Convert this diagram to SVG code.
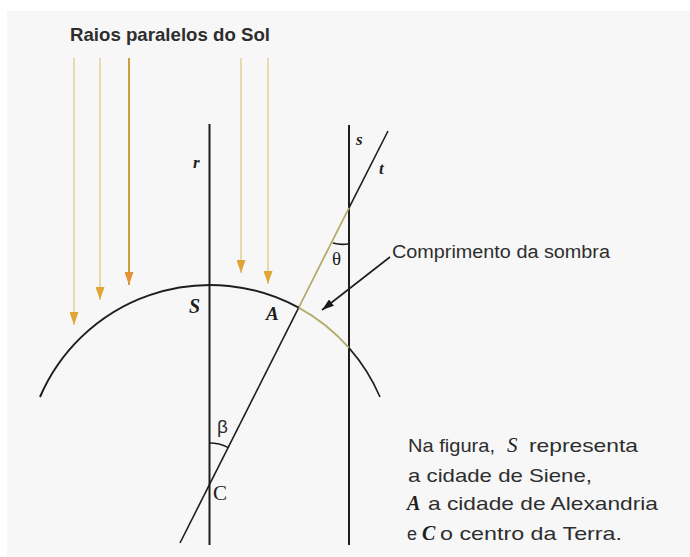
<svg xmlns="http://www.w3.org/2000/svg" width="690" height="557" viewBox="0 0 690 557">
  <defs>
    <marker id="sunHead" viewBox="0 0 13 9" refX="13" refY="4.5" markerWidth="13" markerHeight="9" markerUnits="userSpaceOnUse" orient="auto">
      <path d="M0,0 L13,4.5 L0,9 Z" fill="#e0a535"/>
    </marker>
    <marker id="sunHead2" viewBox="0 0 13 9" refX="13" refY="4.5" markerWidth="13" markerHeight="9" markerUnits="userSpaceOnUse" orient="auto">
      <path d="M0,0 L13,4.5 L0,9 Z" fill="#e8903a"/>
    </marker>
    <marker id="blackHead" viewBox="0 0 12 8" refX="12" refY="4" markerWidth="12" markerHeight="8" markerUnits="userSpaceOnUse" orient="auto">
      <path d="M0,0 L12,4 L0,8 Z" fill="#1a1a1a"/>
    </marker>
  </defs>
  <style>
    .ray { stroke: #e6dbb0; stroke-width: 2; fill: none; marker-end: url(#sunHead); }
    .ray.strong { stroke: #c9a13c; marker-end: url(#sunHead2); }
    .ln { stroke: #1e1e1e; stroke-width: 2; fill: none; }
    .thin { stroke: #1e1e1e; stroke-width: 1.6; fill: none; }
    .olive { stroke: #b3ad6e; stroke-width: 1.8; fill: none; }
    .txt { font-family: "Liberation Sans", Arial, sans-serif; fill: #2e2e2e; }
    .lbl { font-family: "Liberation Serif", "Times New Roman", serif; fill: #1e1e1e; font-style: italic; font-weight: bold; }
    .lbl.plain { font-weight: normal; }
  </style>

  <rect x="0" y="0" width="690" height="557" fill="#ffffff"/>
  <rect x="7" y="11" width="683" height="546" fill="#f7f7f7"/>

  <g id="sun-rays">
    <text class="txt" x="70" y="41" font-size="18.5" font-weight="bold" textLength="200" lengthAdjust="spacingAndGlyphs">Raios paralelos do Sol</text>
    <line class="ray" x1="74" y1="58" x2="74" y2="325"/>
    <line class="ray" x1="100" y1="58" x2="100" y2="300"/>
    <line class="ray strong" x1="129" y1="58" x2="129" y2="285"/>
    <line class="ray" x1="241" y1="58" x2="241" y2="273"/>
    <line class="ray" x1="268" y1="58" x2="268" y2="284"/>
  </g>

  <g id="connectors">
    <line class="ln" x1="209.5" y1="124" x2="209.5" y2="545"/>
    <line class="ln" x1="349" y1="125" x2="349" y2="545"/>
    <line class="thin" x1="388" y1="131" x2="349" y2="207.8"/>
    <line class="olive" x1="349" y1="207.8" x2="298.7" y2="307.6"/>
    <line class="thin" x1="298.7" y1="307.6" x2="180" y2="543"/>
    <path class="ln" d="M40,397 A185,185 0 0 1 298.7,307.6"/>
    <path class="olive" d="M298.7,307.6 A185,185 0 0 1 349,347.9"/>
    <path class="thin" d="M349,347.9 A185,185 0 0 1 380,397"/>
    <path class="thin" d="M209.5,443 A41,41 0 0 1 228,447.4"/>
    <path class="thin" stroke-width="1.3" d="M332.8,243 A36,36 0 0 0 349,243.8"/>
    <line class="thin" x1="390" y1="257" x2="322" y2="310" marker-end="url(#blackHead)"/>
  </g>

  <g id="labels">
    <text class="lbl" x="193" y="168" font-size="17">r</text>
    <text class="lbl" x="356" y="145" font-size="17">s</text>
    <text class="lbl" x="379" y="174" font-size="17">t</text>
    <text class="lbl" x="189" y="313" font-size="20">S</text>
    <text class="lbl" x="266" y="320" font-size="19">A</text>
    <text class="txt" x="217" y="433" font-size="19">β</text>
    <text x="213" y="500" font-size="21" font-family="Liberation Serif, 'Times New Roman', serif" fill="#222">C</text>
    <text x="332" y="265" font-size="19" font-family="Liberation Serif, 'Times New Roman', serif" fill="#222">θ</text>
    <text class="txt" x="392" y="258" font-size="18" textLength="218" lengthAdjust="spacingAndGlyphs">Comprimento da sombra</text>
  </g>

  <g id="caption">
    <text class="txt" x="408" y="452" font-size="19" textLength="87" lengthAdjust="spacingAndGlyphs">Na figura,</text>
    <text class="lbl plain" x="507" y="452" font-size="21">S</text>
    <text class="txt" x="529" y="452" font-size="19" textLength="109" lengthAdjust="spacingAndGlyphs">representa</text>
    <text class="txt" x="408" y="482" font-size="19" textLength="184" lengthAdjust="spacingAndGlyphs">a cidade de Siene,</text>
    <text class="lbl" x="407" y="510" font-size="20">A</text>
    <text class="txt" x="428" y="510" font-size="19" textLength="230" lengthAdjust="spacingAndGlyphs">a cidade de Alexandria</text>
    <text class="txt" x="407" y="540" font-size="18">e</text>
    <text class="lbl" x="422" y="540" font-size="20">C</text>
    <text class="txt" x="440" y="540" font-size="19" textLength="182" lengthAdjust="spacingAndGlyphs">o centro da Terra.</text>
  </g>
</svg>
